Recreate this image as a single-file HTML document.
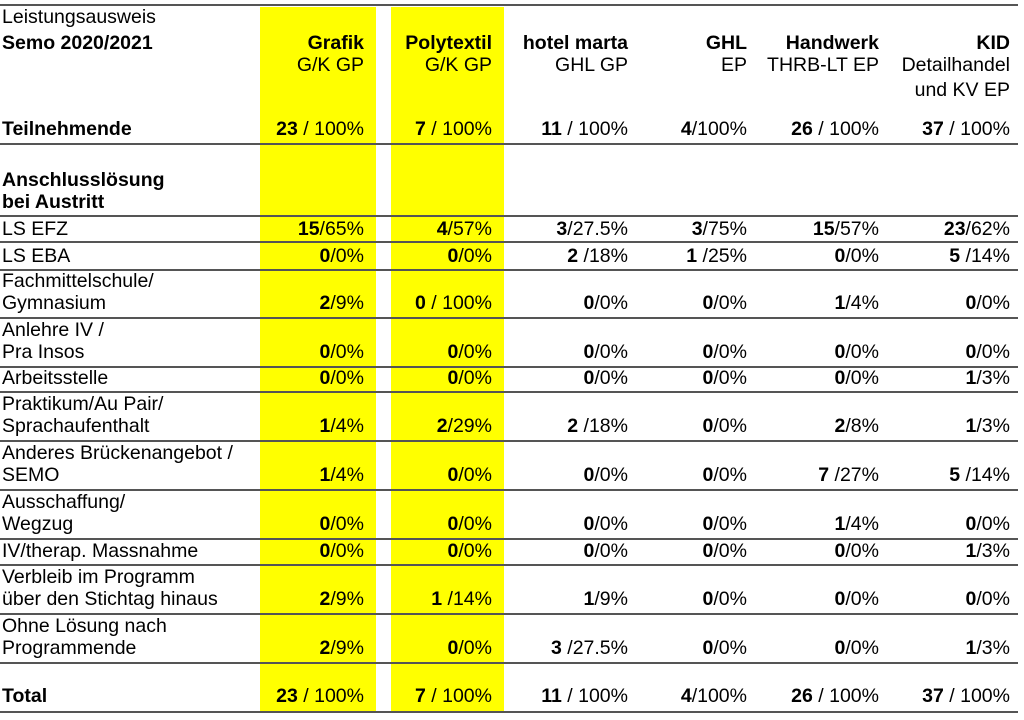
<!DOCTYPE html>
<html><head><meta charset="utf-8">
<style>
body{margin:0;width:1024px;height:720px;background:#fff;position:relative;overflow:hidden;font-family:"Liberation Sans",Arial,sans-serif;font-size:19.5px;color:#000}
.y{position:absolute;top:7px;height:705px;background:#ffff00}
.l{position:absolute;left:0;width:1018px;height:2px;background:#555}
.t{position:absolute;line-height:22px;white-space:nowrap}
.r{text-align:right}
b{font-weight:bold}
</style></head><body>
<div class="y" style="left:260px;width:116px"></div>
<div class="y" style="left:391px;width:113px"></div>

<div class="l" style="top:4px"></div>
<div class="l" style="top:143px"></div>
<div class="l" style="top:215px"></div>
<div class="l" style="top:241px"></div>
<div class="l" style="top:269px"></div>
<div class="l" style="top:317px"></div>
<div class="l" style="top:366px"></div>
<div class="l" style="top:391px"></div>
<div class="l" style="top:440px"></div>
<div class="l" style="top:489px"></div>
<div class="l" style="top:538px"></div>
<div class="l" style="top:564px"></div>
<div class="l" style="top:613px"></div>
<div class="l" style="top:662px"></div>
<div class="l" style="top:711px"></div>

<!-- header -->
<div class="t" style="left:2px;top:6px">Leistungsausweis</div>
<div class="t" style="left:2px;top:32px"><b>Semo 2020/2021</b></div>
<div class="t r" style="right:660px;top:32px"><b>Grafik</b><br>G/K GP</div>
<div class="t r" style="right:532px;top:32px"><b>Polytextil</b><br>G/K GP</div>
<div class="t r" style="right:396px;top:32px"><b>hotel marta</b><br>GHL GP</div>
<div class="t r" style="right:277px;top:32px"><b>GHL</b><br>EP</div>
<div class="t r" style="right:145px;top:32px"><b>Handwerk</b><br>THRB-LT EP</div>
<div class="t r" style="right:14px;top:32px"><b>KID</b><br>Detailhandel<br><span style="position:relative;top:3px">und KV EP</span></div>

<!-- labels -->
<div class="t" style="left:2px;top:118px"><b>Teilnehmende</b></div>
<div class="t" style="left:2px;top:169px"><b>Anschlusslösung<br>bei Austritt</b></div>
<div class="t" style="left:2px;top:218px">LS EFZ</div>
<div class="t" style="left:2px;top:245px">LS EBA</div>
<div class="t" style="left:2px;top:270px">Fachmittelschule/<br>Gymnasium</div>
<div class="t" style="left:2px;top:319px">Anlehre IV /<br>Pra Insos</div>
<div class="t" style="left:2px;top:367px">Arbeitsstelle</div>
<div class="t" style="left:2px;top:393px">Praktikum/Au Pair/<br>Sprachaufenthalt</div>
<div class="t" style="left:2px;top:442px">Anderes Brückenangebot /<br>SEMO</div>
<div class="t" style="left:2px;top:491px">Ausschaffung/<br>Wegzug</div>
<div class="t" style="left:2px;top:540px">IV/therap. Massnahme</div>
<div class="t" style="left:2px;top:566px">Verbleib im Programm<br>über den Stichtag hinaus</div>
<div class="t" style="left:2px;top:615px">Ohne Lösung nach<br>Programmende</div>
<div class="t" style="left:2px;top:685px"><b>Total</b></div>

<!-- Teilnehmende -->
<div class="t r" style="right:660px;top:118px"><b>23</b> / 100%</div>
<div class="t r" style="right:532px;top:118px"><b>7</b> / 100%</div>
<div class="t r" style="right:396px;top:118px"><b>11</b> / 100%</div>
<div class="t r" style="right:277px;top:118px"><b>4</b>/100%</div>
<div class="t r" style="right:145px;top:118px"><b>26</b> / 100%</div>
<div class="t r" style="right:14px;top:118px"><b>37</b> / 100%</div>

<div class="t r" style="right:660px;top:218px"><b>15</b>/65%</div>
<div class="t r" style="right:532px;top:218px"><b>4</b>/57%</div>
<div class="t r" style="right:396px;top:218px"><b>3</b>/27.5%</div>
<div class="t r" style="right:277px;top:218px"><b>3</b>/75%</div>
<div class="t r" style="right:145px;top:218px"><b>15</b>/57%</div>
<div class="t r" style="right:14px;top:218px"><b>23</b>/62%</div>

<div class="t r" style="right:660px;top:245px"><b>0</b>/0%</div>
<div class="t r" style="right:532px;top:245px"><b>0</b>/0%</div>
<div class="t r" style="right:396px;top:245px"><b>2</b> /18%</div>
<div class="t r" style="right:277px;top:245px"><b>1</b> /25%</div>
<div class="t r" style="right:145px;top:245px"><b>0</b>/0%</div>
<div class="t r" style="right:14px;top:245px"><b>5</b> /14%</div>

<div class="t r" style="right:660px;top:292px"><b>2</b>/9%</div>
<div class="t r" style="right:532px;top:292px"><b>0</b> / 100%</div>
<div class="t r" style="right:396px;top:292px"><b>0</b>/0%</div>
<div class="t r" style="right:277px;top:292px"><b>0</b>/0%</div>
<div class="t r" style="right:145px;top:292px"><b>1</b>/4%</div>
<div class="t r" style="right:14px;top:292px"><b>0</b>/0%</div>

<div class="t r" style="right:660px;top:341px"><b>0</b>/0%</div>
<div class="t r" style="right:532px;top:341px"><b>0</b>/0%</div>
<div class="t r" style="right:396px;top:341px"><b>0</b>/0%</div>
<div class="t r" style="right:277px;top:341px"><b>0</b>/0%</div>
<div class="t r" style="right:145px;top:341px"><b>0</b>/0%</div>
<div class="t r" style="right:14px;top:341px"><b>0</b>/0%</div>

<div class="t r" style="right:660px;top:367px"><b>0</b>/0%</div>
<div class="t r" style="right:532px;top:367px"><b>0</b>/0%</div>
<div class="t r" style="right:396px;top:367px"><b>0</b>/0%</div>
<div class="t r" style="right:277px;top:367px"><b>0</b>/0%</div>
<div class="t r" style="right:145px;top:367px"><b>0</b>/0%</div>
<div class="t r" style="right:14px;top:367px"><b>1</b>/3%</div>

<div class="t r" style="right:660px;top:415px"><b>1</b>/4%</div>
<div class="t r" style="right:532px;top:415px"><b>2</b>/29%</div>
<div class="t r" style="right:396px;top:415px"><b>2</b> /18%</div>
<div class="t r" style="right:277px;top:415px"><b>0</b>/0%</div>
<div class="t r" style="right:145px;top:415px"><b>2</b>/8%</div>
<div class="t r" style="right:14px;top:415px"><b>1</b>/3%</div>

<div class="t r" style="right:660px;top:464px"><b>1</b>/4%</div>
<div class="t r" style="right:532px;top:464px"><b>0</b>/0%</div>
<div class="t r" style="right:396px;top:464px"><b>0</b>/0%</div>
<div class="t r" style="right:277px;top:464px"><b>0</b>/0%</div>
<div class="t r" style="right:145px;top:464px"><b>7</b> /27%</div>
<div class="t r" style="right:14px;top:464px"><b>5</b> /14%</div>

<div class="t r" style="right:660px;top:513px"><b>0</b>/0%</div>
<div class="t r" style="right:532px;top:513px"><b>0</b>/0%</div>
<div class="t r" style="right:396px;top:513px"><b>0</b>/0%</div>
<div class="t r" style="right:277px;top:513px"><b>0</b>/0%</div>
<div class="t r" style="right:145px;top:513px"><b>1</b>/4%</div>
<div class="t r" style="right:14px;top:513px"><b>0</b>/0%</div>

<div class="t r" style="right:660px;top:540px"><b>0</b>/0%</div>
<div class="t r" style="right:532px;top:540px"><b>0</b>/0%</div>
<div class="t r" style="right:396px;top:540px"><b>0</b>/0%</div>
<div class="t r" style="right:277px;top:540px"><b>0</b>/0%</div>
<div class="t r" style="right:145px;top:540px"><b>0</b>/0%</div>
<div class="t r" style="right:14px;top:540px"><b>1</b>/3%</div>

<div class="t r" style="right:660px;top:588px"><b>2</b>/9%</div>
<div class="t r" style="right:532px;top:588px"><b>1</b> /14%</div>
<div class="t r" style="right:396px;top:588px"><b>1</b>/9%</div>
<div class="t r" style="right:277px;top:588px"><b>0</b>/0%</div>
<div class="t r" style="right:145px;top:588px"><b>0</b>/0%</div>
<div class="t r" style="right:14px;top:588px"><b>0</b>/0%</div>

<div class="t r" style="right:660px;top:637px"><b>2</b>/9%</div>
<div class="t r" style="right:532px;top:637px"><b>0</b>/0%</div>
<div class="t r" style="right:396px;top:637px"><b>3</b> /27.5%</div>
<div class="t r" style="right:277px;top:637px"><b>0</b>/0%</div>
<div class="t r" style="right:145px;top:637px"><b>0</b>/0%</div>
<div class="t r" style="right:14px;top:637px"><b>1</b>/3%</div>

<div class="t r" style="right:660px;top:685px"><b>23</b> / 100%</div>
<div class="t r" style="right:532px;top:685px"><b>7</b> / 100%</div>
<div class="t r" style="right:396px;top:685px"><b>11</b> / 100%</div>
<div class="t r" style="right:277px;top:685px"><b>4</b>/100%</div>
<div class="t r" style="right:145px;top:685px"><b>26</b> / 100%</div>
<div class="t r" style="right:14px;top:685px"><b>37</b> / 100%</div>
</body></html>
